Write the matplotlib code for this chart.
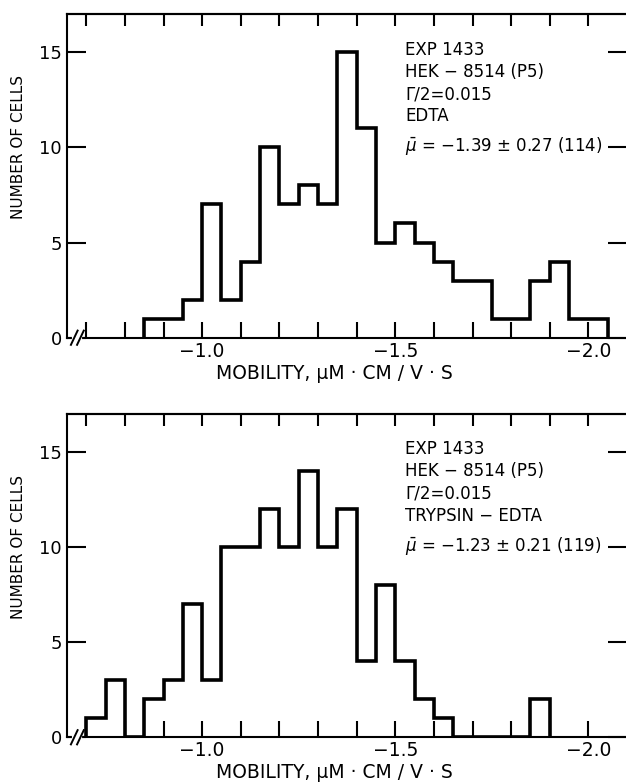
import matplotlib
matplotlib.use("Agg")
import matplotlib.pyplot as plt

# bin edges (mobility, um*cm/V*s) and cell counts
edta_edges = [-0.85, -0.90, -0.95, -1.00, -1.05, -1.10, -1.15, -1.20, -1.25,
              -1.30, -1.35, -1.40, -1.45, -1.50, -1.55, -1.60, -1.65, -1.70,
              -1.75, -1.80, -1.85, -1.90, -1.95, -2.00, -2.05]
edta_counts = [1, 1, 2, 7, 2, 4, 10, 7, 8, 7, 15, 11, 5, 6, 5, 4, 3, 3,
               1, 1, 3, 4, 1, 1]

trypsin_edges = [-0.70, -0.75, -0.80, -0.85, -0.90, -0.95, -1.00, -1.05,
                 -1.10, -1.15, -1.20, -1.25, -1.30, -1.35, -1.40, -1.45,
                 -1.50, -1.55, -1.60, -1.65, -1.70, -1.75, -1.80, -1.85, -1.90]
trypsin_counts = [1, 3, 0, 2, 3, 7, 3, 10, 10, 12, 10, 14, 10, 12, 4, 8,
                  4, 2, 1, 0, 0, 0, 0, 2]

# axis ticks and labels
x_ticks = [-0.7, -0.8, -0.9, -1.0, -1.1, -1.2, -1.3, -1.4, -1.5, -1.6,
           -1.7, -1.8, -1.9, -2.0]
x_labeled = {-1.0: "\u22121.0", -1.5: "\u22121.5", -2.0: "\u22122.0"}
y_ticks = [0, 5, 10, 15]

# annotation text for each panel
edta_info = "EXP 1433\nHEK \u2212 8514 (P5)\n\u0393/2=0.015\nEDTA"
edta_mean = "$\\bar{\\mu}$ = \u22121.39 \u00b1 0.27 (114)"
trypsin_info = "EXP 1433\nHEK \u2212 8514 (P5)\n\u0393/2=0.015\nTRYPSIN \u2212 EDTA"
trypsin_mean = "$\\bar{\\mu}$ = \u22121.23 \u00b1 0.21 (119)"

plt.rcParams['font.family'] = ['DejaVu Sans']
LW_AX = 1.5


def draw_panel(ax, edges, counts, info, mean_text):
    ax.stairs(counts, edges, baseline=0, color='black', linewidth=2.6, zorder=3)
    ax.set_xlim(-0.65, -2.10)
    ax.set_ylim(0, 17)

    for side in ['left', 'bottom', 'top', 'right']:
        ax.spines[side].set_linewidth(LW_AX)

    # bottom ticks, only three labelled
    ax.set_xticks(x_ticks, labels=[x_labeled.get(t, "") for t in x_ticks])
    ax.tick_params(axis='x', direction='in', length=11.5, width=LW_AX,
                   pad=3, labelsize=13.5)
    # shorter ticks along the top
    top = ax.secondary_xaxis('top')
    top.set_xticks(x_ticks, labels=[""] * len(x_ticks))
    top.tick_params(direction='in', length=8.6, width=LW_AX)
    top.spines['top'].set_linewidth(LW_AX)

    ax.set_yticks(y_ticks)
    ax.tick_params(axis='y', direction='in', length=13.7, width=LW_AX,
                   pad=3.5, labelsize=13, left=True, right=True)

    # axis break mark "//" near the origin
    ax.plot([0.013, 0.024], [0, 0], color='white', linewidth=3,
            transform=ax.transAxes, clip_on=False, zorder=6)
    for x0 in [0.007, 0.018]:
        ax.plot([x0, x0 + 0.012], [-0.022, 0.022], color='black', linewidth=1.4,
                transform=ax.transAxes, clip_on=False, zorder=7)

    ax.text(-0.0857, 10 / 17, "NUMBER OF CELLS", rotation=90, ha='center',
            va='center', transform=ax.transAxes, fontsize=11)
    ax.text(0.477, -0.110, "MOBILITY, \u03bcM \u00b7 CM / V \u00b7 S", ha='center',
            va='center', transform=ax.transAxes, fontsize=13.5)

    ax.text(-1.525, 15.6, info, ha='left', va='top', fontsize=12, linespacing=1.3)
    ax.text(-1.525, 9.8, mean_text, ha='left', va='baseline', fontsize=12)


fig = plt.figure(figsize=(6.26, 7.83), dpi=100)
ax_top = fig.add_axes([0.1070, 0.5687, 0.8946, 0.4134])
ax_bot = fig.add_axes([0.1070, 0.0584, 0.8946, 0.4134])

draw_panel(ax_top, edta_edges, edta_counts, edta_info, edta_mean)
draw_panel(ax_bot, trypsin_edges, trypsin_counts, trypsin_info, trypsin_mean)

fig.savefig("out.png", dpi=100)
plt.close(fig)
